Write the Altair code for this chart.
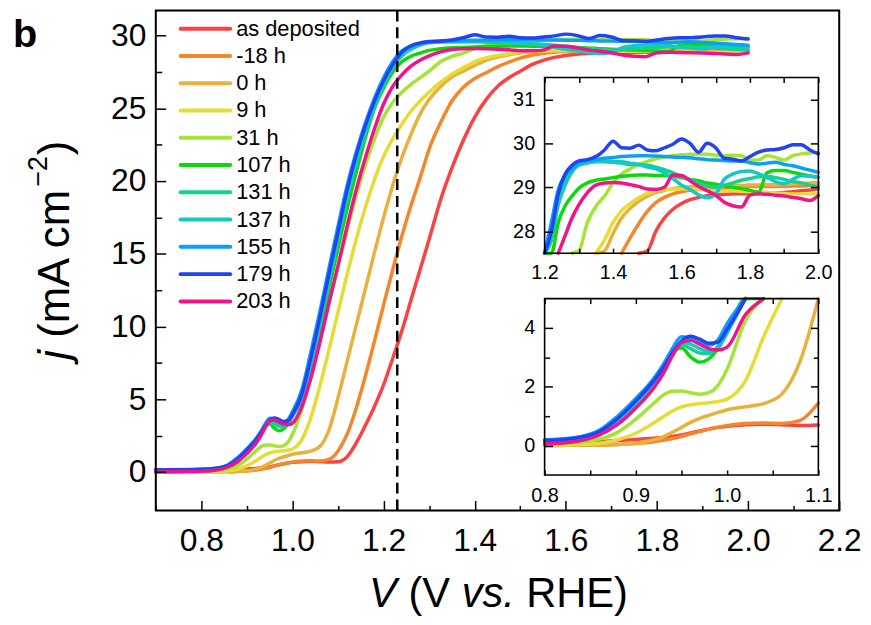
import altair as alt
import pandas as pd

# ---------------- data ----------------
V = [0.70, 0.76, 0.80, 0.83, 0.86, 0.88, 0.90, 0.92, 0.93, 0.94, 0.95, 0.96, 0.97, 0.98, 0.99, 1.00,
     1.02, 1.04, 1.06, 1.08, 1.10, 1.12, 1.14, 1.16, 1.18, 1.20, 1.22, 1.24, 1.26, 1.28, 1.30,
     1.325, 1.35, 1.375, 1.40, 1.425, 1.45, 1.475, 1.50, 1.525, 1.55, 1.575, 1.60, 1.625, 1.65,
     1.675, 1.70, 1.725, 1.75, 1.775, 1.80, 1.825, 1.85, 1.875, 1.90, 1.925, 1.95, 1.975, 2.00]

names = ["as deposited", "-18 h", "0 h", "9 h", "31 h", "107 h", "131 h", "137 h", "155 h", "179 h", "203 h"]
colors = ["#fb4141", "#f5862a", "#e9b03c", "#e6dc34", "#a4e434", "#0cd80c", "#14d28c", "#14c8c8",
          "#0aa0f5", "#2242f5", "#f0148a"]

j_as_dep = [0.00, 0.02, 0.05, 0.09, 0.14, 0.17, 0.21, 0.25, 0.28, 0.31, 0.36, 0.43, 0.50, 0.56, 0.62, 0.66,
            0.71, 0.73, 0.71, 0.68, 0.70, 1.05, 2.00, 3.20, 4.50, 6.00, 7.80, 9.70, 11.8, 13.9, 16.0,
            18.7, 20.9, 22.8, 24.4, 25.6, 26.5, 27.1, 27.55, 28.0, 28.3, 28.5, 28.63, 28.72, 28.77,
            28.81, 28.83, 28.84, 28.85, 28.85, 28.86, 28.86, 28.87, 28.87, 28.88, 28.90, 28.92, 28.94, 28.96]
j_m18 = [0.00, 0.00, 0.00, 0.01, 0.02, 0.04, 0.07, 0.13, 0.18, 0.24, 0.31, 0.40, 0.48, 0.56, 0.63, 0.68,
         0.75, 0.77, 0.75, 0.86, 1.45, 2.6, 4.4, 6.6, 9.0, 11.5, 13.9, 16.2, 18.3, 20.2, 22.2,
         24.0, 25.5, 26.45, 27.05, 27.45, 27.85, 28.17, 28.45, 28.65, 28.77, 28.85, 28.90, 28.93, 28.95,
         28.97, 28.99, 29.00, 29.00, 29.01, 29.02, 29.02, 29.02, 29.02, 29.02, 29.03, 29.03, 29.04, 29.04]
j_0 = [0.00, 0.00, 0.00, 0.01, 0.02, 0.04, 0.09, 0.20, 0.30, 0.45, 0.62, 0.79, 0.93, 1.03, 1.13, 1.22,
       1.32, 1.43, 1.75, 2.87, 5.10, 7.6, 10.1, 12.6, 15.1, 17.5, 19.7, 21.6, 23.2, 24.6, 25.6,
       26.5, 27.15, 27.55, 27.95, 28.3, 28.52, 28.68, 28.8, 28.88, 28.93, 28.97, 29.00, 29.01, 29.02,
       29.02, 29.03, 29.03, 29.04, 29.04, 29.05, 29.05, 29.06, 29.06, 29.07, 29.08, 29.09, 29.10, 29.11]
j_9 = [0.00, 0.00, 0.01, 0.03, 0.08, 0.20, 0.42, 0.78, 0.98, 1.18, 1.32, 1.39, 1.43, 1.46, 1.50, 1.58,
       2.20, 3.70, 5.90, 8.40, 11.0, 13.6, 16.0, 18.2, 20.1, 21.7, 22.9, 23.9, 24.8, 25.5, 26.1,
       26.8, 27.35, 27.8, 28.2, 28.47, 28.63, 28.76, 28.86, 28.92, 28.95, 28.96, 28.96, 28.96, 28.95,
       28.94, 28.93, 28.92, 28.92, 28.91, 28.90, 28.89, 28.88, 28.87, 28.86, 28.85, 28.85, 28.85, 28.86]
j_31 = [0.00, 0.01, 0.04, 0.10, 0.22, 0.45, 0.90, 1.45, 1.72, 1.85, 1.86, 1.80, 1.75, 1.80, 2.05, 2.60,
        4.25, 6.50, 9.00, 11.6, 14.1, 16.6, 19.0, 21.1, 22.9, 24.4, 25.4, 26.1, 26.65, 27.1, 27.55,
        28.2, 28.57, 28.8, 29.1, 29.3, 29.42, 29.52, 29.59, 29.65, 29.69, 29.72, 29.74, 29.75, 29.76,
        29.75, 29.73, 29.72, 29.73, 29.72, 29.62, 29.62, 29.72, 29.68, 29.62, 29.72, 29.76, 29.78, 29.80]
j_107 = [0.02, 0.04, 0.07, 0.14, 0.42, 0.82, 1.42, 2.12, 2.58, 3.15, 3.32, 3.02, 2.84, 2.95, 3.30, 3.83,
         5.00, 7.00, 9.70, 12.6, 15.4, 18.1, 20.6, 23.0, 25.0, 26.4, 27.5, 28.2, 28.58, 28.8, 28.98,
         29.1, 29.16, 29.19, 29.22, 29.25, 29.27, 29.28, 29.28, 29.27, 29.27, 29.25, 29.22, 29.18, 29.15,
         29.10, 29.07, 29.03, 29.00, 28.97, 28.93, 28.89, 29.33, 29.38, 29.38, 29.34, 29.30, 29.26, 29.23]
j_131 = [0.05, 0.07, 0.10, 0.18, 0.44, 0.80, 1.40, 2.10, 2.55, 3.12, 3.42, 3.30, 3.15, 3.13, 3.38, 3.92,
         5.10, 7.30, 10.1, 13.1, 16.0, 18.8, 21.2, 23.3, 25.1, 26.6, 27.8, 28.6, 29.05, 29.35, 29.5,
         29.55, 29.58, 29.58, 29.57, 29.55, 29.52, 29.52, 29.50, 29.46, 29.40, 29.33, 29.25, 29.17, 29.10,
         29.03, 29.00, 29.05, 29.10, 29.16, 29.20, 29.24, 29.25, 29.22, 29.18, 29.13, 29.10, 29.05, 29.00]
j_137 = [0.08, 0.10, 0.12, 0.20, 0.48, 0.85, 1.45, 2.15, 2.60, 3.20, 3.52, 3.45, 3.30, 3.20, 3.35, 3.85,
         5.10, 7.40, 10.2, 13.2, 16.1, 18.9, 21.3, 23.4, 25.2, 26.7, 27.9, 28.7, 29.15, 29.42, 29.55,
         29.6, 29.6, 29.6, 29.59, 29.58, 29.55, 29.52, 29.46, 29.42, 29.33, 29.20, 29.05, 28.95, 28.83,
         28.76, 28.85, 29.18, 29.30, 29.36, 29.37, 29.31, 29.22, 29.13, 29.08, 29.18, 29.26, 29.25, 29.22]
j_155 = [0.15, 0.17, 0.20, 0.26, 0.52, 1.00, 1.60, 2.30, 2.75, 3.30, 3.70, 3.65, 3.50, 3.42, 3.60, 4.15,
         5.60, 8.20, 11.0, 14.0, 16.9, 19.7, 22.0, 24.0, 25.7, 27.1, 28.2, 28.95, 29.28, 29.43, 29.55,
         29.6, 29.63, 29.66, 29.68, 29.70, 29.71, 29.72, 29.72, 29.71, 29.70, 29.69, 29.68, 29.67, 29.65,
         29.63, 29.62, 29.61, 29.60, 29.60, 29.56, 29.53, 29.55, 29.57, 29.52, 29.49, 29.44, 29.39, 29.34]
j_179 = [0.15, 0.15, 0.17, 0.24, 0.48, 0.92, 1.52, 2.22, 2.65, 3.15, 3.55, 3.72, 3.62, 3.48, 3.52, 3.95,
         5.30, 7.80, 10.6, 13.6, 16.5, 19.4, 21.8, 23.8, 25.5, 26.9, 28.0, 28.85, 29.3, 29.5, 29.6,
         29.63, 29.70, 29.85, 30.05, 29.90, 29.89, 29.96, 29.85, 29.83, 29.90, 29.98, 30.10, 30.00, 29.80,
         30.00, 29.90, 29.66, 29.64, 29.60, 29.70, 29.80, 29.85, 29.86, 29.90, 29.97, 29.97, 29.85, 29.76]
j_203 = [0.02, 0.03, 0.06, 0.12, 0.36, 0.72, 1.28, 1.98, 2.45, 3.05, 3.50, 3.58, 3.45, 3.30, 3.25, 3.35,
         4.45, 6.40, 8.90, 11.6, 14.2, 16.9, 19.4, 21.6, 23.6, 25.3, 26.5, 27.3, 27.9, 28.3, 28.6,
         28.88, 29.05, 29.10, 29.11, 29.10, 29.06, 29.02, 28.96, 28.95, 29.00, 29.28, 29.27, 29.15, 29.02,
         28.92, 28.82, 28.66, 28.58, 28.55, 28.82, 28.85, 28.84, 28.82, 28.80, 28.77, 28.74, 28.70, 28.81]

series = [j_as_dep, j_m18, j_0, j_9, j_31, j_107, j_131, j_137, j_155, j_179, j_203]

# axis ranges and tick values
main_x_dom = [0.7, 2.2]
main_y_dom = [-2.64, 31.725]
in1_x_dom = [1.2, 2.0]
in1_y_dom = [27.5, 31.5]
in2_x_dom = [0.8, 1.1]
in2_y_dom = [-1, 5]
main_x_major = [0.8, 1.0, 1.2, 1.4, 1.6, 1.8, 2.0, 2.2]
main_x_minor = [0.7, 0.9, 1.1, 1.3, 1.5, 1.7, 1.9, 2.1]
main_y_major = [0, 5, 10, 15, 20, 25, 30]
main_y_minor = [2.5, 7.5, 12.5, 17.5, 22.5, 27.5]
in1_x_ticks = [1.2, 1.3, 1.4, 1.5, 1.6, 1.7, 1.8, 1.9, 2.0]
in1_y_ticks = [28, 29, 30, 31]
in2_x_ticks = [0.8, 0.85, 0.9, 0.95, 1.0, 1.05, 1.1]
in2_y_major = [0, 2, 4]
in2_y_minor = [1, 3]
v_ref = [1.23]

rows = []
for k, (nm, js) in enumerate(zip(names, series)):
    assert len(js) == len(V)
    for v, j in zip(V, js):
        rows.append({"V": v, "j": j, "series": nm, "color": colors[k]})
df = pd.DataFrame(rows)


def inset_data(xd, yd):
    x0, x1 = xd
    y0, y1 = yd
    out = []
    for nm in names:
        g = df[(df.series == nm) & (df.V >= x0 - 1e-9) & (df.V <= x1 + 1e-9)].reset_index(drop=True)
        inside = (g.j >= y0) & (g.j <= y1)
        keep = inside | inside.shift(1, fill_value=False) | inside.shift(-1, fill_value=False)
        out.append(g[keep])
    return pd.concat(out, ignore_index=True)


FONT = "Liberation Sans"
W, H = 689, 504

MX = alt.Scale(domain=main_x_dom, nice=False, zero=False)
MY = alt.Scale(domain=main_y_dom, nice=False, zero=False)
I1X = alt.Scale(domain=in1_x_dom, range=[392, 668], nice=False, zero=False)
I1Y = alt.Scale(domain=in1_y_dom, range=[244.7, 67.5], nice=False, zero=False, clamp=True)
I2X = alt.Scale(domain=in2_x_dom, range=[392, 668], nice=False, zero=False)
I2Y = alt.Scale(domain=in2_y_dom, range=[468.3, 290.5], nice=False, zero=False, clamp=True)


def ax(orient, values, size, offset, labels=False, fs=20, pad=8, fmt=None, expr=None):
    kw = dict(domain=False, grid=False, ticks=True, tickColor="black", tickWidth=1.5,
              labelColor="black", labelFont=FONT, title=None, labelFlush=False,
              labelOverlap=False, zindex=2, orient=orient, values=values,
              tickSize=size, offset=offset, labels=labels)
    if labels:
        kw.update(labelFontSize=fs, labelPadding=pad)
        if fmt:
            kw["format"] = fmt
        if expr:
            kw["labelExpr"] = expr
    return alt.Axis(**kw)


def lines(data, xs, ys, xaxis=None, yaxis=None):
    return alt.Chart(data).mark_line(strokeWidth=3.5, interpolate="monotone",
                                     strokeCap="round", strokeJoin="round").encode(
        x=alt.X("V:Q", scale=xs, axis=xaxis),
        y=alt.Y("j:Q", scale=ys, axis=yaxis),
        color=alt.Color("color:N", scale=None),
        detail="series:N",
    )


def axl(xs, ys, xv, yv, xaxis=None, yaxis=None):
    d = pd.DataFrame({"x": [xv], "y": [yv]})
    return alt.Chart(d).mark_point(opacity=0).encode(
        x=alt.X("x:Q", scale=xs, axis=xaxis),
        y=alt.Y("y:Q", scale=ys, axis=yaxis),
    )


def box(xs, ys, xd, yd, fill, sw=1.6, xaxis=None, yaxis=None):
    d = pd.DataFrame({"x": [xd[0]], "x2": [xd[1]], "y": [yd[0]], "y2": [yd[1]]})
    if fill:
        m = alt.Chart(d).mark_rect(fill="white", strokeWidth=0)
    else:
        m = alt.Chart(d).mark_rect(fillOpacity=0, stroke="black", strokeWidth=sw)
    return m.encode(
        x=alt.X("x:Q", scale=xs, axis=xaxis), x2="x2:Q",
        y=alt.Y("y:Q", scale=ys, axis=yaxis), y2="y2:Q",
    )


one = pd.DataFrame({"a": [0]})


def txt(s, px, py, size, style="normal", weight="normal", angle=0):
    return alt.Chart(one).mark_text(text=s, font=FONT, fontSize=size, fontStyle=style,
                                    fontWeight=weight, angle=angle, align="left",
                                    baseline="alphabetic", color="black").encode(
        x=alt.value(px), y=alt.value(py))


# ---------------- main panel ----------------
main = lines(df, MX, MY,
             ax("bottom", main_x_major, 10, -10, True, 32, 15, ".1f"),
             ax("left", main_y_major, 10, -10, True, 32, 10, "d"))
main_minor = axl(MX, MY, 1.0, 0.0,
                 ax("bottom", main_x_minor, 5, -5),
                 ax("left", main_y_minor, 6, -6))
main_frame = box(MX, MY, main_x_dom, main_y_dom, False, sw=2)
dashed = alt.Chart(pd.DataFrame({"V": v_ref})).mark_rule(
    color="black", strokeWidth=2.5, strokeDash=[11, 6]).encode(
    x=alt.X("V:Q", scale=MX, axis=None))

leg = pd.DataFrame({"label": names, "color": colors,
                    "py": [18.3 + 27.5 * i for i in range(len(names))]})
leg_lines = alt.Chart(leg).mark_rule(strokeWidth=4, strokeCap="round").encode(
    x=alt.value(25), x2=alt.value(75),
    y=alt.Y("py:Q", scale=None, axis=None),
    color=alt.Color("color:N", scale=None))
leg_text = alt.Chart(leg).mark_text(align="left", baseline="middle", font=FONT,
                                    fontSize=22, color="black").encode(
    x=alt.value(81), y=alt.Y("py:Q", scale=None, axis=None), text="label:N")

# ---------------- inset 1 (top) ----------------
d1 = inset_data(in1_x_dom, in1_y_dom)
even10 = "(round(datum.value*10) % 2 == 0) ? format(datum.value, '.1f') : ''"
in1_bg = box(I1X, I1Y, in1_x_dom, in1_y_dom, True, 0,
             ax("bottom", in1_x_ticks, 5, 244.7 - 5 - H, True, 20, 10, None, even10),
             ax("left", in1_y_ticks, 8, -(392 + 8), True, 20, 10, "d"))
in1_lines = lines(d1, I1X, I1Y,
                  ax("top", in1_x_ticks, 5, -(67.5 + 5)),
                  ax("right", in1_y_ticks, 8, 668 - 8 - W))
in1_frame = box(I1X, I1Y, in1_x_dom, in1_y_dom, False)

# ---------------- inset 2 (bottom) ----------------
d2 = inset_data(in2_x_dom, in2_y_dom)
tenth = "(round(datum.value*100) % 10 == 0) ? format(datum.value, '.1f') : ''"
in2_bg = box(I2X, I2Y, in2_x_dom, in2_y_dom, True, 0,
             ax("bottom", in2_x_ticks, 5, 468.3 - 5 - H, True, 20, 11, None, tenth),
             ax("left", in2_y_major, 8, -(392 + 8), True, 20, 10, "d"))
in2_lines = lines(d2, I2X, I2Y,
                  ax("top", in2_x_ticks, 5, -(290.5 + 5)),
                  ax("right", in2_y_major, 8, 668 - 8 - W))
in2_frame = box(I2X, I2Y, in2_x_dom, in2_y_dom, False)
in2_minor = axl(I2X, I2Y, 0.9, 2.0, None, ax("left", in2_y_minor, 5, -(392 + 5)))
in2_minor_r = axl(I2X, I2Y, 0.9, 2.0, None, ax("right", in2_y_minor, 5, 668 - 5 - W))

# ---------------- titles ----------------
texts = [
    txt("b", -144, 37, 40, weight="bold"),
    txt("V", 215, 601, 42, style="italic"),
    txt("(V", 254.7, 601, 42),
    txt("vs.", 308.4, 601, 42, style="italic"),
    txt("RHE)", 373.4, 601, 42),
    txt("j", -87, 352, 44, style="italic", angle=270),
    txt("(mA cm", -87, 330, 44, angle=270),
    txt("\u22122", -110, 177.5, 27, angle=270),
    txt(")", -87, 146, 44, angle=270),
]

chart = alt.layer(
    main, main_minor, dashed, main_frame, leg_lines, leg_text,
    in1_bg, in1_lines, in1_frame,
    in2_bg, in2_lines, in2_frame, in2_minor, in2_minor_r,
    *texts
).resolve_scale(x="independent", y="independent").resolve_axis(
    x="independent", y="independent"
).properties(
    width=W, height=H,
    autosize=alt.AutoSizeParams(type="none"),
    padding={"left": 149, "top": 0, "right": 24, "bottom": 110},
).configure_view(strokeWidth=0).configure(background="white")

chart.save("out.html", embed_options={"renderer": "svg", "actions": False})
